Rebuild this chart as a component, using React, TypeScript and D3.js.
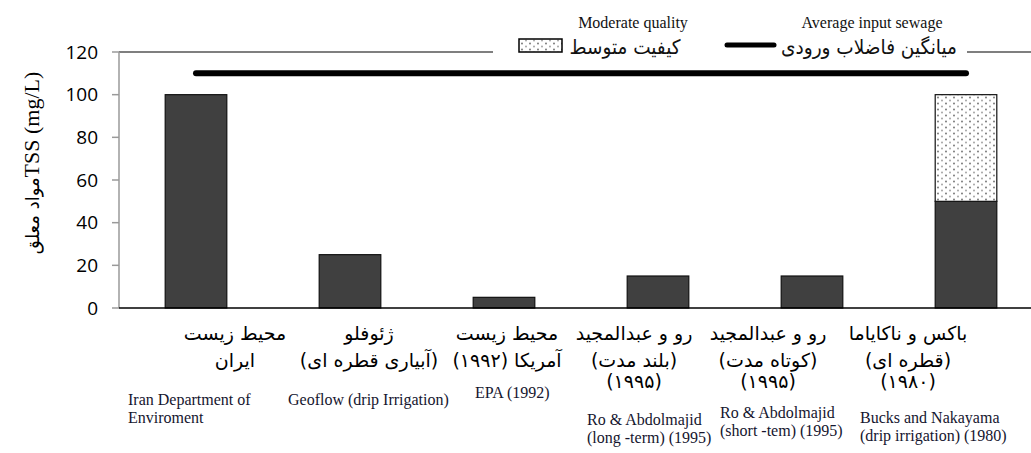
import React from 'react';
import * as d3 from 'd3';

// ---------- data ----------
const categories = ['iran', 'geoflow', 'epa', 'roLong', 'roShort', 'bucks'];
const faLabels: string[][] = [
  ['محیط زیست', 'ایران'],
  ['ژئوفلو', '(آبیاری قطره ای)'],
  ['محیط زیست', 'آمریکا  (۱۹۹۲)'],
  ['رو و عبدالمجید', '(بلند مدت)', '(۱۹۹۵)'],
  ['رو و عبدالمجید', '(کوتاه مدت)', '(۱۹۹۵)'],
  ['باکس و ناکایاما', '(قطره ای)', '(۱۹۸۰)'],
];
const enLabels: string[][] = [
  ['Iran Department of', 'Enviroment'],
  ['Geoflow (drip Irrigation)'],
  ['EPA (1992)'],
  ['Ro & Abdolmajid', '(long -term) (1995)'],
  ['Ro & Abdolmajid', '(short -tem) (1995)'],
  ['Bucks and Nakayama', '(drip irrigation) (1980)'],
];
const baseValues = [100, 25, 5, 15, 15, 50];
const moderateValues = [0, 0, 0, 0, 0, 50];
const averageInput = 110;
const yTicks = [0, 20, 40, 60, 80, 100, 120];
const legendModerate = ['Moderate quality', 'کیفیت متوسط'];
const legendAverage = ['Average input sewage', 'میانگین فاضلاب ورودی'];
const yLabelFa = 'مواد معلق';
const yLabelEn = 'TSS (mg/L)';

// ---------- layout ----------
const W = 1031;
const H = 453;
const plot = { left: 119, top: 52, right: 1043, bottom: 308 };
const faDx = [39, 19, 3, -24, -44, -58];
const enDx = [-68, -62, -29, -71, -92, -106];
const enY = [405, 405, 398, 425, 418, 423];
const faLineY = [340, 367, 388];

const serif = '"Liberation Serif", "Times New Roman", "DejaVu Sans", serif';
const faFont = '"DejaVu Sans", sans-serif';

export default function App() {
  const x = d3
    .scaleBand<string>()
    .domain(categories)
    .range([plot.left, plot.right])
    .paddingInner(0.6)
    .paddingOuter(0.3);
  const y = d3.scaleLinear().domain([0, 120]).range([plot.bottom, plot.top]);
  const bw = x.bandwidth();
  const cx = (c: string) => (x(c) as number) + bw / 2;

  const avgLine = d3
    .line<string>()
    .x((c) => cx(c))
    .y(() => y(averageInput))([categories[0], categories[categories.length - 1]]);

  return (
    <svg
      width={W}
      height={H}
      style={{ position: 'fixed', left: 0, top: 0, background: '#fff' }}
    >
      <defs>
        <pattern id="dots" width="8" height="6" patternUnits="userSpaceOnUse">
          <rect width="8" height="6" fill="#fff" />
          <circle cx="2" cy="1.5" r="0.9" fill="#6e6e6e" />
          <circle cx="6" cy="4.5" r="1" fill="#a5a5a5" />
        </pattern>
      </defs>
      <rect width={W} height={H} fill="#fff" />

      {/* top frame line */}
      <line x1={plot.left} x2={W} y1={plot.top} y2={plot.top} stroke="#000" strokeWidth={1.2} />

      {/* y axis */}
      <line x1={plot.left} x2={plot.left} y1={plot.top} y2={plot.bottom} stroke="#9a9a9a" strokeWidth={1.5} />
      {yTicks.map((t) => (
        <g key={t}>
          <line x1={plot.left - 7} x2={plot.left} y1={y(t)} y2={y(t)} stroke="#9a9a9a" strokeWidth={1.5} />
          <text
            x={98}
            y={y(t)}
            dy="0.35em"
            textAnchor="end"
            fontFamily='"Open Sans", sans-serif'
            fontSize={19}
            fill="#000"
          >
            {t}
          </text>
        </g>
      ))}

      {/* bars */}
      {categories.map((c, i) => (
        <g key={c}>
          <rect
            x={x(c)}
            y={y(baseValues[i])}
            width={bw}
            height={y(0) - y(baseValues[i])}
            fill="#404040"
            stroke="#111"
            strokeWidth={1.2}
          />
          {moderateValues[i] > 0 && (
            <rect
              x={x(c)}
              y={y(baseValues[i] + moderateValues[i])}
              width={bw}
              height={y(baseValues[i]) - y(baseValues[i] + moderateValues[i])}
              fill="url(#dots)"
              stroke="#111"
              strokeWidth={1.2}
            />
          )}
        </g>
      ))}

      {/* bottom axis */}
      <line x1={plot.left} x2={W} y1={plot.bottom} y2={plot.bottom} stroke="#000" strokeWidth={1.5} />

      {/* average line */}
      <path d={avgLine || ''} stroke="#000" strokeWidth={6} strokeLinecap="round" fill="none" />

      {/* legend */}
      <rect x={493} y={2} width={474} height={56} fill="#fff" />
      <text x={633} y={28} textAnchor="middle" fontFamily={serif} fontSize={16} fill="#111">
        {legendModerate[0]}
      </text>
      <rect x={519} y={39} width={43} height={13} fill="url(#dots)" stroke="#000" strokeWidth={1.5} />
      <text
        x={625}
        y={54}
        textAnchor="middle"
        direction="rtl"
        fontFamily={faFont}
        fontSize={20}
        textLength={111}
        lengthAdjust="spacingAndGlyphs"
        fill="#111"
      >
        {legendModerate[1]}
      </text>
      <text x={872} y={28} textAnchor="middle" fontFamily={serif} fontSize={16} fill="#111">
        {legendAverage[0]}
      </text>
      <line x1={727} x2={774} y1={45} y2={45} stroke="#000" strokeWidth={5} strokeLinecap="round" />
      <text
        x={869}
        y={54}
        textAnchor="middle"
        direction="rtl"
        fontFamily={faFont}
        fontSize={20}
        textLength={176}
        lengthAdjust="spacingAndGlyphs"
        fill="#111"
      >
        {legendAverage[1]}
      </text>

      {/* Persian category labels */}
      {categories.map((c, i) =>
        faLabels[i].map((s, j) => (
          <text
            key={c + 'fa' + j}
            x={cx(c) + faDx[i]}
            y={faLineY[j]}
            textAnchor="middle"
            direction="rtl"
            fontFamily={faFont}
            fontSize={19}
            fill="#000"
          >
            {s}
          </text>
        ))
      )}

      {/* English category labels */}
      {categories.map((c, i) =>
        enLabels[i].map((s, j) => (
          <text
            key={c + 'en' + j}
            x={cx(c) + enDx[i]}
            y={enY[i] + j * 18}
            textAnchor="start"
            fontFamily={serif}
            fontSize={16}
            fill="#15152e"
          >
            {s}
          </text>
        ))
      )}

      {/* y-axis title */}
      <text
        transform="translate(39,163) rotate(-90)"
        textAnchor="middle"
        fontFamily={serif}
        fontSize={22}
        fill="#000"
      >
        <tspan fontFamily={faFont} fontSize={18}>{yLabelFa}</tspan>
        <tspan>{yLabelEn}</tspan>
      </text>
    </svg>
  );
}
